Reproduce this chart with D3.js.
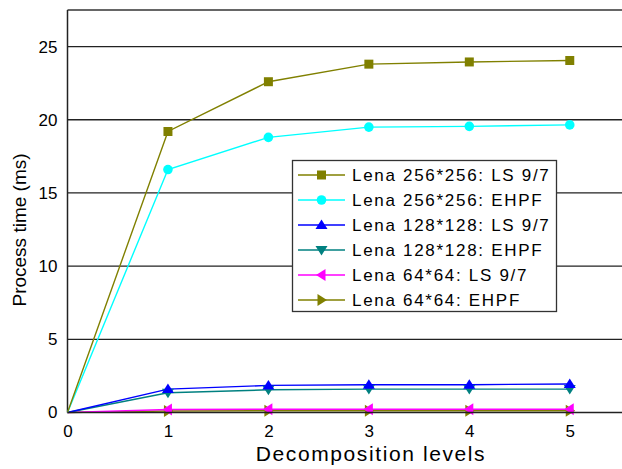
<!DOCTYPE html>
<html>
<head>
<meta charset="utf-8">
<script src="https://cdn.jsdelivr.net/npm/d3@7"></script>
<style>
  body { margin: 0; background: #fff; }
  text { font-family: "Liberation Sans", Arial, sans-serif; }
</style>
</head>
<body>
<script>
var levels = [0, 1, 2, 3, 4, 5];
var ls256 = [0, 19.2, 22.6, 23.8, 23.95, 24.05];
var ehpf256 = [0, 16.6, 18.8, 19.5, 19.55, 19.65];
var ls128 = [0, 1.6, 1.85, 1.9, 1.9, 1.95];
var ehpf128 = [0, 1.35, 1.55, 1.6, 1.6, 1.6];
var ls64 = [0, 0.2, 0.22, 0.22, 0.22, 0.22];
var ehpf64 = [0, 0.1, 0.12, 0.12, 0.12, 0.12];
var seriesNames = ["Lena 256*256: LS 9/7", "Lena 256*256: EHPF", "Lena 128*128: LS 9/7",
                   "Lena 128*128: EHPF", "Lena 64*64: LS 9/7", "Lena 64*64: EHPF"];
var yTicks = [0, 5, 10, 15, 20, 25];

var width = 622, height = 469;
var plotLeft = 67.5, plotRight = 622, plotTop = 10, plotBottom = 412.5;

var series = [
  {name: seriesNames[0], vals: ls256,  color: "#808000", shape: "square"},
  {name: seriesNames[1], vals: ehpf256, color: "#00ffff", shape: "circle"},
  {name: seriesNames[2], vals: ls128,  color: "#0000ff", shape: "up"},
  {name: seriesNames[3], vals: ehpf128, color: "#008080", shape: "down"},
  {name: seriesNames[4], vals: ls64,   color: "#ff00ff", shape: "left"},
  {name: seriesNames[5], vals: ehpf64, color: "#808000", shape: "right"}
];

var x = d3.scaleLinear().domain([0, 5.52]).range([plotLeft, plotRight]);
var y = d3.scaleLinear().domain([0, 27.5]).range([plotBottom, plotTop]);

var svg = d3.select("body").append("svg")
  .attr("width", width)
  .attr("height", height);

// grid lines
svg.selectAll(".grid")
  .data(yTicks.filter(function(d) { return d > 0; }))
  .enter().append("line")
  .attr("x1", plotLeft).attr("x2", plotRight)
  .attr("y1", function(d) { return y(d); })
  .attr("y2", function(d) { return y(d); })
  .attr("stroke", "#222")
  .attr("stroke-width", 1.3);

// frame top + left
svg.append("line").attr("x1", plotLeft).attr("x2", plotRight).attr("y1", plotTop).attr("y2", plotTop)
  .attr("stroke", "#333").attr("stroke-width", 1.5);
svg.append("line").attr("x1", plotLeft).attr("x2", plotLeft).attr("y1", plotTop).attr("y2", plotBottom)
  .attr("stroke", "#222").attr("stroke-width", 1.5);

// axes (labels only)
var yAxis = d3.axisLeft(y).tickValues(yTicks).tickSize(0).tickPadding(10).tickFormat(d3.format("d"));
var gy = svg.append("g").attr("transform", "translate(" + plotLeft + ",0)").call(yAxis);
gy.select(".domain").remove();
gy.selectAll("text").attr("font-size", 17).attr("fill", "#000")
  .attr("font-family", "Liberation Sans, Arial, sans-serif");

var xAxis = d3.axisBottom(x).tickValues(levels).tickSize(0).tickPadding(12).tickFormat(d3.format("d"));
var gx = svg.append("g").attr("transform", "translate(0," + plotBottom + ")").call(xAxis);
gx.select(".domain").remove();
gx.selectAll("text").attr("font-size", 17).attr("fill", "#000")
  .attr("font-family", "Liberation Sans, Arial, sans-serif");

function symbolPath(shape, s) {
  switch (shape) {
    case "square": return "M" + (-s) + "," + (-s) + "h" + 2*s + "v" + 2*s + "h" + (-2*s) + "Z";
    case "up": return "M0," + (-s*1.1) + "L" + (s*1.2) + "," + (s*0.8) + "L" + (-s*1.2) + "," + (s*0.8) + "Z";
    case "down": return "M0," + (s*1.1) + "L" + (s*1.2) + "," + (-s*0.8) + "L" + (-s*1.2) + "," + (-s*0.8) + "Z";
    case "left": return "M" + (-s*1.1) + ",0L" + (s*0.8) + "," + (-s*1.2) + "L" + (s*0.8) + "," + (s*1.2) + "Z";
    case "right": return "M" + (s*1.1) + ",0L" + (-s*0.8) + "," + (-s*1.2) + "L" + (-s*0.8) + "," + (s*1.2) + "Z";
  }
}

function drawMarker(g, shape, color, cx, cy) {
  if (shape == "circle") {
    g.append("circle").attr("cx", cx).attr("cy", cy).attr("r", 4.8).attr("fill", color);
  } else {
    g.append("path").attr("d", symbolPath(shape, shape == "square" ? 4.5 : 5))
      .attr("transform", "translate(" + cx + "," + cy + ")")
      .attr("fill", color);
  }
}

var line = d3.line()
  .x(function(d, i) { return x(levels[i]); })
  .y(function(d) { return y(d); });

// draw bottom series first
for (var k = series.length - 1; k >= 0; k--) {
  var s = series[k];
  svg.append("path").attr("d", line(s.vals))
    .attr("fill", "none").attr("stroke", s.color).attr("stroke-width", 1.4);
}
for (var k = series.length - 1; k >= 0; k--) {
  var s = series[k];
  var g = svg.append("g");
  for (var i = 1; i < levels.length; i++) {
    drawMarker(g, s.shape, s.color, x(levels[i]), y(s.vals[i]));
  }
}

// baseline
svg.append("line").attr("x1", plotLeft).attr("x2", plotRight).attr("y1", plotBottom).attr("y2", plotBottom)
  .attr("stroke", "#222").attr("stroke-width", 1.5);

// axis titles
svg.append("text")
  .attr("transform", "translate(26,230) rotate(-90)")
  .attr("text-anchor", "middle")
  .attr("font-size", 19)
  .attr("fill", "#000")
  .text("Process time (ms)");

svg.append("text")
  .attr("x", 371).attr("y", 461)
  .attr("text-anchor", "middle")
  .attr("font-size", 21)
  .attr("letter-spacing", 1.6)
  .attr("fill", "#000")
  .text("Decomposition levels");

// legend
var legend = svg.append("g");
legend.append("rect")
  .attr("x", 292.5).attr("y", 160.5).attr("width", 264).attr("height", 151)
  .attr("fill", "#fff").attr("stroke", "#333").attr("stroke-width", 1.3);

series.forEach(function(s, i) {
  var cy = 175 + i * 25;
  legend.append("line").attr("x1", 298).attr("x2", 345).attr("y1", cy).attr("y2", cy)
    .attr("stroke", s.color).attr("stroke-width", 1.4);
  drawMarker(legend, s.shape, s.color, 321.5, cy);
  legend.append("text")
    .attr("x", 352).attr("y", cy + 6)
    .attr("font-size", 17)
    .attr("letter-spacing", 1.7)
    .attr("fill", "#000")
    .text(s.name);
});
</script>
</body>
</html>
